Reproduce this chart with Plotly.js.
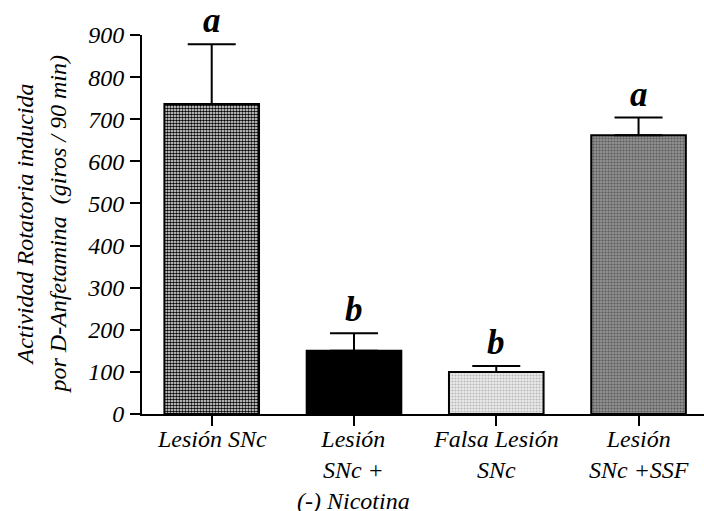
<!DOCTYPE html>
<html>
<head>
<meta charset="utf-8">
<script src="https://cdn.plot.ly/plotly-3.0.1.min.js"></script>
<style>
  html, body { margin: 0; padding: 0; background: #fff; }
  #chart { width: 704px; height: 511px; }
</style>
</head>
<body>
<div id="chart"></div>
<script>
// Rotational activity induced by D-amphetamine (turns / 90 min), mean + SEM
const categories = [
  "Lesión SNc",
  "Lesión<br>SNc +<br>(-) Nicotina",
  "Falsa Lesión<br>SNc",
  "Lesión<br>SNc +SSF"
];
const means = [736, 150, 100, 662];
const errors = [142, 42, 14, 42];
const groupLetters = ["a", "b", "b", "a"];
const yTicks = [0, 100, 200, 300, 400, 500, 600, 700, 800, 900];

const serif = "Liberation Serif";
const italicFont = (size, weight) => ({
  family: serif, size: size, color: "#000", style: "italic", weight: weight || "normal"
});

const fills = [
  { bgcolor: "#ffffff", fgcolor: "#000000", shape: ".", size: 3, solidity: 0.6 },
  { bgcolor: "#000000", fgcolor: "#000000", shape: "", size: 3, solidity: 0.5 },
  { bgcolor: "#ececec", fgcolor: "#b8b8b8", shape: ".", size: 3, solidity: 0.4 },
  { bgcolor: "#929292", fgcolor: "#5a5a5a", shape: ".", size: 3, solidity: 0.4 }
];

const traces = categories.map((c, i) => ({
  type: "bar",
  x: [i],
  y: [means[i]],
  width: 0.665,
  marker: {
    color: fills[i].bgcolor,
    pattern: fills[i],
    line: { color: "#000", width: 2 }
  },
  error_y: {
    type: "data",
    symmetric: false,
    array: [errors[i]],
    arrayminus: [0],
    color: "#000",
    thickness: 2,
    width: 24
  },
  hoverinfo: "skip",
  showlegend: false
}));

// significance letters above each error bar
const letterNotes = groupLetters.map((t, i) => ({
  x: i,
  y: means[i] + errors[i],
  xref: "x",
  yref: "y",
  text: t,
  showarrow: false,
  yanchor: "bottom",
  yshift: 2,
  font: italicFont(35, "bold")
}));

// category labels under the x axis
const categoryNotes = categories.map((c, i) => ({
  x: i,
  y: 0,
  xref: "x",
  yref: "paper",
  text: c,
  showarrow: false,
  yanchor: "top",
  yshift: -10,
  align: "center",
  font: italicFont(24)
}));

// two-line y axis title
const titleNotes = [
  { text: "Actividad Rotatoria inducida", xshift: -118 },
  { text: "por D-Anfetamina  (giros / 90 min)", xshift: -85 }
].map(o => ({
  x: 0,
  y: 0.5,
  xref: "paper",
  yref: "paper",
  text: o.text,
  textangle: -90,
  showarrow: false,
  xanchor: "center",
  yanchor: "middle",
  xshift: o.xshift,
  font: italicFont(24)
}));

const axisCommon = {
  ticks: "outside",
  ticklen: 10,
  tickwidth: 2,
  tickcolor: "#000",
  showline: true,
  linecolor: "#000",
  linewidth: 2,
  showgrid: false,
  zeroline: false,
  fixedrange: true,
  tickfont: italicFont(24)
};

const layout = {
  width: 704,
  height: 511,
  margin: { l: 142, r: 0, t: 35, b: 97 },
  paper_bgcolor: "#fff",
  plot_bgcolor: "#fff",
  font: { family: serif, color: "#000" },
  xaxis: Object.assign({}, axisCommon, {
    range: [-0.49, 3.46],
    tickmode: "array",
    tickvals: categories.map((c, i) => i),
    showticklabels: false
  }),
  yaxis: Object.assign({}, axisCommon, {
    range: [0, 900],
    tickmode: "array",
    tickvals: yTicks,
    ticktext: yTicks.map(String),
    ticklabelstandoff: 1
  }),
  annotations: letterNotes.concat(categoryNotes, titleNotes),
  bargap: 0.33
};

Plotly.newPlot("chart", traces, layout, { displayModeBar: false, staticPlot: true });
</script>
</body>
</html>
